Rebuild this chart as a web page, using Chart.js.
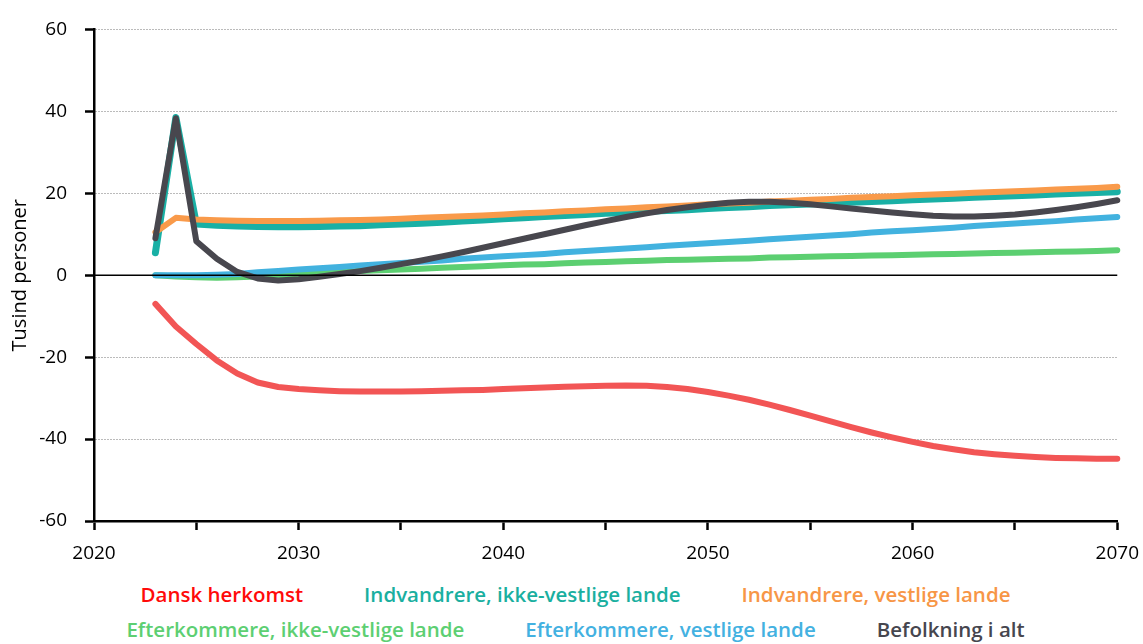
<!DOCTYPE html>
<html lang="da">
<head>
<meta charset="utf-8">
<title>Tusind personer</title>
<script src="https://cdn.jsdelivr.net/npm/chart.js@4.4.1/dist/chart.umd.min.js"></script>
<style>
    body { margin: 0; background: #fff; font-family: "Open Sans", sans-serif; }
    #wrap { width: 1143px; height: 644px; position: relative; overflow: hidden; }
    #chart-box { width: 1151px; height: 570px; position: relative; }
    #legend { width: 1143px; box-sizing: border-box; padding: 7px 0 0 8px; font-weight: 600; font-size: 20.5px; }
    #legend .row { display: flex; justify-content: center; gap: 61px; height: 35px; line-height: 35px; white-space: nowrap; }
</style>
</head>
<body>
<div id="wrap">
    <div id="chart-box"><canvas id="popChart"></canvas></div>
    <div id="legend"></div>
</div>
<script>
// År (fremskrivning)
const years = [
    2023, 2024, 2025, 2026, 2027, 2028, 2029, 2030, 2031, 2032,
    2033, 2034, 2035, 2036, 2037, 2038, 2039, 2040, 2041, 2042,
    2043, 2044, 2045, 2046, 2047, 2048, 2049, 2050, 2051, 2052,
    2053, 2054, 2055, 2056, 2057, 2058, 2059, 2060, 2061, 2062,
    2063, 2064, 2065, 2066, 2067, 2068, 2069, 2070
];

const danskHerkomst = [
    -7.0, -12.5, -16.8, -20.8, -24.0, -26.2, -27.3, -27.8, -28.1, -28.3,
    -28.4, -28.4, -28.4, -28.3, -28.2, -28.1, -28.0, -27.8, -27.6, -27.4,
    -27.2, -27.1, -27.0, -26.9, -27.0, -27.3, -27.8, -28.5, -29.4, -30.4,
    -31.6, -32.9, -34.3, -35.7, -37.1, -38.4, -39.6, -40.7, -41.7, -42.5,
    -43.2, -43.7, -44.1, -44.4, -44.6, -44.7, -44.8, -44.8
];

const indvIkkeVestlige = [
    5.5, 38.5, 12.5, 12.2, 12.0, 11.9, 11.8, 11.8, 11.9, 12.0,
    12.1, 12.3, 12.5, 12.7, 12.9, 13.2, 13.5, 13.8, 14.0, 14.3,
    14.6, 14.8, 15.1, 15.3, 15.6, 15.8, 16.0, 16.3, 16.5, 16.7,
    17.0, 17.2, 17.4, 17.6, 17.8, 18.0, 18.2, 18.4, 18.6, 18.8,
    19.0, 19.2, 19.4, 19.6, 19.8, 20.0, 20.2, 20.4
];

const indvVestlige = [
    10.5, 14.0, 13.6, 13.4, 13.3, 13.2, 13.2, 13.2, 13.3, 13.4,
    13.5, 13.6, 13.8, 14.0, 14.2, 14.4, 14.6, 14.8, 15.1, 15.3,
    15.6, 15.8, 16.1, 16.3, 16.6, 16.8, 17.0, 17.3, 17.5, 17.7,
    18.0, 18.2, 18.4, 18.6, 18.9, 19.1, 19.3, 19.5, 19.7, 19.9,
    20.1, 20.3, 20.5, 20.7, 20.9, 21.1, 21.3, 21.6
];

const efterIkkeVestlige = [
    0.0, -0.3, -0.5, -0.6, -0.5, -0.3, 0.0, 0.3, 0.6, 0.8,
    1.0, 1.2, 1.4, 1.6, 1.8, 2.0, 2.2, 2.4, 2.6, 2.7,
    2.9, 3.1, 3.2, 3.4, 3.5, 3.7, 3.8, 3.9, 4.0, 4.1,
    4.3, 4.4, 4.5, 4.6, 4.7, 4.8, 4.9, 5.0, 5.1, 5.2,
    5.3, 5.4, 5.5, 5.6, 5.7, 5.8, 5.9, 6.1
];

const efterVestlige = [
    0.0, 0.0, 0.0, 0.1, 0.3, 0.7, 1.0, 1.4, 1.7, 2.0,
    2.4, 2.7, 3.0, 3.3, 3.6, 4.0, 4.3, 4.6, 4.9, 5.2,
    5.6, 5.9, 6.2, 6.5, 6.8, 7.2, 7.5, 7.8, 8.1, 8.4,
    8.8, 9.1, 9.4, 9.7, 10.0, 10.4, 10.7, 11.0, 11.3, 11.6,
    12.0, 12.3, 12.6, 12.9, 13.2, 13.6, 13.9, 14.2
];

const befolkningIAlt = [
    9.0, 38.3, 8.3, 4.0, 0.8, -0.8, -1.3, -1.0, -0.4, 0.3,
    1.0, 1.8, 2.7, 3.6, 4.6, 5.6, 6.7, 7.8, 8.9, 10.0,
    11.1, 12.2, 13.2, 14.2, 15.1, 15.9, 16.6, 17.2, 17.7, 17.9,
    17.9, 17.7, 17.3, 16.8, 16.3, 15.8, 15.3, 14.9, 14.5, 14.3,
    14.3, 14.5, 14.8, 15.3, 15.9, 16.6, 17.4, 18.3
];

const yTicks = [-60, -40, -20, 0, 20, 40, 60];
const xLabels = [2020, 2030, 2040, 2050, 2060, 2070];

const series = [
    { label: 'Dansk herkomst', values: danskHerkomst, line: '#f25555', text: '#ff0a0a', width: 6, order: 6 },
    { label: 'Indvandrere, ikke-vestlige lande', values: indvIkkeVestlige, line: '#19b0a5', text: '#1aafa0', width: 7, order: 5 },
    { label: 'Indvandrere, vestlige lande', values: indvVestlige, line: '#f99a4a', text: '#f79646', width: 6, order: 4 },
    { label: 'Efterkommere, ikke-vestlige lande', values: efterIkkeVestlige, line: '#5ccf71', text: '#5dcf72', width: 6, order: 3 },
    { label: 'Efterkommere, vestlige lande', values: efterVestlige, line: '#42b2df', text: '#43b1e1', width: 6, order: 2 },
    { label: 'Befolkning i alt', values: befolkningIAlt, line: '#48474e', text: '#46464e', width: 6, order: 1 }
];

// Legende i to rækker, farvet tekst uden symboler
const legendEl = document.getElementById('legend');
[series.slice(0, 3), series.slice(3)].forEach(rowItems => {
    const row = document.createElement('div');
    row.className = 'row';
    row.innerHTML = rowItems.map(s => `<span style="color:${s.text}">${s.label}</span>`).join('');
    legendEl.appendChild(row);
});

const zeroLine = {
    id: 'zeroLine',
    afterDatasetsDraw(chart) {
        const { ctx, chartArea, scales } = chart;
        const y = scales.y.getPixelForValue(0);
        ctx.save();
        ctx.strokeStyle = '#000';
        ctx.lineWidth = 1.5;
        ctx.beginPath();
        ctx.moveTo(chartArea.left, y);
        ctx.lineTo(chartArea.right, y);
        ctx.stroke();
        ctx.restore();
    }
};

const tickFont = { family: '"Open Sans", sans-serif', size: 19 };

new Chart(document.getElementById('popChart'), {
    type: 'line',
    data: {
        datasets: series.map(s => ({
            label: s.label,
            data: years.map((yr, i) => ({ x: yr, y: s.values[i] })),
            borderColor: s.line,
            backgroundColor: s.line,
            borderWidth: s.width,
            borderCapStyle: 'round',
            borderJoinStyle: 'round',
            pointRadius: 0,
            tension: 0,
            fill: false,
            clip: false,
            order: s.order
        }))
    },
    options: {
        responsive: true,
        maintainAspectRatio: false,
        animation: false,
        layout: { padding: { top: 28, right: 26, left: 0, bottom: 0 } },
        plugins: {
            legend: { display: false },
            tooltip: { enabled: false }
        },
        scales: {
            x: {
                type: 'linear',
                min: 2020,
                max: 2070,
                afterFit: scale => { scale.height = 49; },
                ticks: {
                    stepSize: 5,
                    autoSkip: false,
                    maxRotation: 0,
                    padding: 12,
                    color: '#000',
                    font: tickFont,
                    callback: v => xLabels.includes(v) ? String(v) : ''
                },
                grid: {
                    drawOnChartArea: false,
                    drawTicks: true,
                    tickLength: 9,
                    tickWidth: 2.5,
                    tickColor: '#000'
                },
                border: { display: true, color: '#000', width: 2.5 }
            },
            y: {
                min: -60,
                max: 60,
                afterFit: scale => { scale.width = 94; },
                afterBuildTicks: scale => { scale.ticks = yTicks.map(v => ({ value: v })); },
                ticks: {
                    padding: 18,
                    color: '#000',
                    font: tickFont
                },
                title: {
                    display: true,
                    text: 'Tusind personer',
                    color: '#000',
                    font: { family: '"Open Sans", sans-serif', size: 20 },
                    padding: { top: 8, bottom: 0 }
                },
                grid: {
                    color: ctx => (ctx.tick && ctx.tick.value === 0) ? 'rgba(0,0,0,0)' : '#777',
                    lineWidth: 1,
                    tickLength: 9,
                    tickWidth: 2.5,
                    tickColor: '#000'
                },
                border: { display: true, color: '#000', width: 2.5, dash: [1, 2] }
            }
        }
    },
    plugins: [zeroLine]
});
</script>
</body>
</html>
